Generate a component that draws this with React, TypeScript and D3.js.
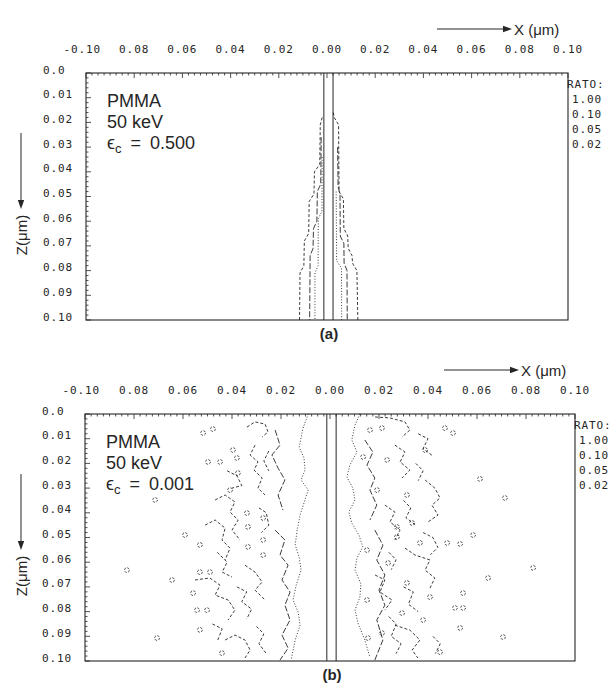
import React from "react";
import * as d3 from "d3";

type Pt = [number, number]; // [x (µm), z (µm)]

// ---------- axes / labels ----------
const xTickValues = [-0.1, -0.08, -0.06, -0.04, -0.02, 0, 0.02, 0.04, 0.06, 0.08, 0.1];
const xTickLabels = ["-0.10", "0.08", "0.06", "0.04", "0.02", "0.00", "0.02", "0.04", "0.06", "0.08", "0.10"];
const zTickValues = [0, 0.01, 0.02, 0.03, 0.04, 0.05, 0.06, 0.07, 0.08, 0.09, 0.1];
const zTickLabels = ["0.0", "0.01", "0.02", "0.03", "0.04", "0.05", "0.06", "0.07", "0.08", "0.09", "0.10"];
const ratioLabels = ["1.00", "0.10", "0.05", "0.02"];
const beamEdges = [-0.0013, 0.0025]; // ratio 1.00 contour

// ---------- panel (a): eps_c = 0.500 ----------
const aLevel002Left: Pt[] = [[-0.002, 0.018], [-0.0028, 0.021], [-0.003, 0.037], [-0.0052, 0.04], [-0.0054, 0.049], [-0.0074, 0.052], [-0.0076, 0.065], [-0.0094, 0.068], [-0.0096, 0.078], [-0.0112, 0.081], [-0.0114, 0.1]];
const aLevel002Right: Pt[] = [[0.0026, 0.016], [0.003, 0.018], [0.0048, 0.021], [0.005, 0.048], [0.0068, 0.051], [0.007, 0.063], [0.0086, 0.066], [0.0088, 0.071], [0.0104, 0.074], [0.0106, 0.077], [0.0124, 0.08], [0.0128, 0.1]];
const aLevel005Left: Pt[] = [[-0.0024, 0.026], [-0.0026, 0.045], [-0.004, 0.048], [-0.0042, 0.06], [-0.0056, 0.063], [-0.0058, 0.071], [-0.007, 0.074], [-0.0072, 0.1]];
const aLevel005Right: Pt[] = [[0.0044, 0.03], [0.0046, 0.046], [0.0054, 0.049], [0.0055, 0.066], [0.007, 0.069], [0.0071, 0.077], [0.0083, 0.08], [0.0084, 0.1]];
const aLevel010Left: Pt[] = [[-0.002, 0.034], [-0.0021, 0.056], [-0.0036, 0.059], [-0.0037, 0.078], [-0.005, 0.081], [-0.005, 0.1]];
const aLevel010Right: Pt[] = [[0.0038, 0.048], [0.004, 0.076], [0.006, 0.079], [0.0061, 0.1]];

// ---------- panel (b): eps_c = 0.001 ----------
const bLevel010Left: Pt[] = [[-0.0089, 0], [-0.011, 0.0057], [-0.0126, 0.0134], [-0.0106, 0.0178], [-0.0102, 0.0227], [-0.0118, 0.0267], [-0.0089, 0.0308], [-0.0106, 0.036], [-0.0122, 0.0409], [-0.0134, 0.047], [-0.0142, 0.053], [-0.0126, 0.0579], [-0.0118, 0.0632], [-0.0138, 0.0693], [-0.0151, 0.0753], [-0.013, 0.0802], [-0.0122, 0.0855], [-0.0142, 0.0915], [-0.0159, 0.0996]];
const bLevel010Right: Pt[] = [[0.0122, 0], [0.0102, 0.0045], [0.0089, 0.0105], [0.011, 0.0154], [0.0081, 0.0207], [0.0069, 0.0255], [0.0093, 0.03], [0.0102, 0.0348], [0.0077, 0.0397], [0.0089, 0.0441], [0.0118, 0.049], [0.0134, 0.0538], [0.011, 0.0583], [0.0102, 0.0632], [0.0126, 0.0688], [0.0122, 0.0741], [0.0102, 0.0794], [0.0114, 0.0846], [0.0142, 0.0915], [0.0163, 0.0984]];

const bLevel005Paths: Pt[][] = [
  [[-0.0224, 0.0065], [-0.0204, 0.0126], [-0.0237, 0.0166], [-0.0212, 0.0219], [-0.0184, 0.0267], [-0.0212, 0.0328], [-0.0192, 0.0389]],
  [[-0.0224, 0.047], [-0.0184, 0.051], [-0.0204, 0.0571], [-0.0171, 0.0612], [-0.0196, 0.0672], [-0.0163, 0.0721], [-0.0184, 0.0774], [-0.0163, 0.0834], [-0.0196, 0.0895], [-0.0171, 0.0948], [-0.0204, 0.0996]],
  [[0.0142, 0.0105], [0.0175, 0.0154], [0.0151, 0.0207], [0.0183, 0.0259], [0.0163, 0.0308], [0.0191, 0.0369], [0.0163, 0.0429]],
  [[0.0183, 0.047], [0.0216, 0.0531], [0.0191, 0.0591], [0.0224, 0.0652], [0.02, 0.0713], [0.0224, 0.0774], [0.0191, 0.0834], [0.0216, 0.0915], [0.0183, 0.0996]],
];

const bLevel002Paths: Pt[][] = [
  [[-0.0339, 0.0053], [-0.0306, 0.0032], [-0.0265, 0.0041], [-0.0253, 0.0073], [-0.0277, 0.0093]],
  [[-0.0306, 0.0126], [-0.0326, 0.0166], [-0.0294, 0.0194], [-0.031, 0.0227], [-0.0277, 0.0259], [-0.0294, 0.03], [-0.0265, 0.0328]],
  [[-0.0469, 0.0348], [-0.0428, 0.0328], [-0.0388, 0.0356], [-0.0408, 0.0397], [-0.0375, 0.0429], [-0.04, 0.047], [-0.0367, 0.051]],
  [[-0.051, 0.045], [-0.0469, 0.0429], [-0.0428, 0.0462], [-0.0441, 0.051], [-0.0408, 0.0543], [-0.0428, 0.0591]],
  [[-0.0551, 0.0672], [-0.049, 0.0664], [-0.0449, 0.0693], [-0.0469, 0.0733], [-0.0416, 0.0753], [-0.0388, 0.0794], [-0.0416, 0.0834]],
  [[-0.0428, 0.0915], [-0.0388, 0.0895], [-0.0347, 0.0915], [-0.0326, 0.0956], [-0.0347, 0.0988]],
  [[-0.0347, 0.0612], [-0.0306, 0.064], [-0.0277, 0.068], [-0.0306, 0.0713], [-0.0265, 0.0753]],
  [[-0.029, 0.038], [-0.026, 0.04], [-0.025, 0.045], [-0.028, 0.048]],
  [[-0.042, 0.023], [-0.038, 0.025], [-0.036, 0.029], [-0.04, 0.03]],
  [[-0.046, 0.056], [-0.042, 0.06], [-0.044, 0.064], [-0.04, 0.066]],
  [[-0.038, 0.07], [-0.034, 0.072], [-0.036, 0.076], [-0.032, 0.079], [-0.034, 0.083]],
  [[-0.048, 0.085], [-0.044, 0.087], [-0.046, 0.092]],
  [[-0.03, 0.086], [-0.027, 0.089], [-0.029, 0.093], [-0.026, 0.097]],
  [[-0.025, 0.015], [-0.027, 0.019], [-0.025, 0.023]],
  [[0.0184, 0.0012], [0.0245, 0.0016], [0.0306, 0.0032], [0.0326, 0.0065], [0.0294, 0.0093]],
  [[0.0265, 0.0126], [0.0306, 0.0154], [0.0286, 0.0194], [0.0326, 0.0227], [0.0294, 0.0259]],
  [[0.0388, 0.0267], [0.0428, 0.03], [0.0449, 0.034], [0.0416, 0.0369], [0.0441, 0.0409], [0.04, 0.0437]],
  [[0.0224, 0.0369], [0.0265, 0.0397], [0.0245, 0.0437], [0.0286, 0.047], [0.0265, 0.051]],
  [[0.0306, 0.0543], [0.0347, 0.0571], [0.0408, 0.0591], [0.0388, 0.0632], [0.0428, 0.0664], [0.0408, 0.0705]],
  [[0.0184, 0.0652], [0.0224, 0.0672], [0.0204, 0.0721], [0.0253, 0.0753], [0.0224, 0.0794]],
  [[0.0265, 0.0855], [0.0326, 0.0875], [0.0367, 0.0915], [0.0335, 0.0956], [0.0359, 0.0988]],
  [[0.036, 0.008], [0.04, 0.01], [0.038, 0.014], [0.042, 0.017]],
  [[0.035, 0.02], [0.038, 0.023], [0.036, 0.027]],
  [[0.03, 0.035], [0.033, 0.038], [0.031, 0.042], [0.035, 0.045]],
  [[0.038, 0.048], [0.042, 0.05], [0.044, 0.054], [0.041, 0.057]],
  [[0.024, 0.056], [0.027, 0.059], [0.025, 0.063]],
  [[0.03, 0.07], [0.034, 0.072], [0.032, 0.077], [0.036, 0.08]],
  [[0.024, 0.082], [0.027, 0.085], [0.025, 0.09], [0.029, 0.093], [0.027, 0.097]],
  [[0.042, 0.09], [0.045, 0.093], [0.043, 0.097]],
];

const bLevel002Rings: Pt[] = [
  [-0.0518, 0.0077], [-0.0478, 0.0061], [-0.0396, 0.0146], [-0.0498, 0.0194], [-0.0449, 0.0194], [-0.038, 0.0178], [-0.0376, 0.0239],
  [-0.0714, 0.0348], [-0.0408, 0.0308], [-0.0592, 0.049], [-0.0531, 0.053], [-0.0829, 0.0632], [-0.0645, 0.0672], [-0.0531, 0.064],
  [-0.049, 0.064], [-0.0559, 0.0725], [-0.0543, 0.0794], [-0.0502, 0.0794], [-0.0531, 0.0874], [-0.0706, 0.0907], [-0.0441, 0.0968],
  [-0.0339, 0.0401], [-0.0273, 0.0421], [-0.0335, 0.0457], [-0.0273, 0.051], [-0.0335, 0.0538], [-0.0273, 0.0571],
  [0.0469, 0.0057], [0.0502, 0.0077], [0.0388, 0.0146], [0.0612, 0.0263], [0.0714, 0.034], [0.0584, 0.049], [0.0531, 0.0526],
  [0.0829, 0.0623], [0.0645, 0.0664], [0.0543, 0.0725], [0.051, 0.0785], [0.0543, 0.0785], [0.0531, 0.0866], [0.0706, 0.0903],
  [0.0449, 0.0964], [0.0273, 0.0457], [0.0273, 0.0498], [0.0163, 0.0065], [0.0212, 0.0057], [0.0233, 0.0186], [0.0135, 0.0174],
  [0.0192, 0.0308], [0.0314, 0.0328], [0.0335, 0.0441], [0.0151, 0.0551], [0.0237, 0.0603], [0.0314, 0.0684], [0.0151, 0.0753],
  [0.0155, 0.0907], [0.0212, 0.0887], [0.0294, 0.0806], [0.038, 0.0834], [0.0408, 0.0741], [0.0478, 0.0522], [0.0367, 0.0522],
];

// ---------- rendering ----------
const INK = "#262626";
const MONO = "'DejaVu Sans Mono', 'Liberation Mono', monospace";
const SANS = "'Liberation Sans', Arial, Helvetica, sans-serif";

const levelStyle: Record<string, { dash: string; w: number }> = {
  "0.10": { dash: "1,1.8", w: 0.9 },
  "0.05": { dash: "6,2", w: 0.9 },
  "0.02": { dash: "3,2", w: 0.9 },
};

type Box = { left: number; right: number; top: number; bottom: number };

function Panel(props: {
  box: Box;
  tag: string;
  ec: string;
  lines: { level: string; pts: Pt[] }[];
  rings: Pt[];
}) {
  const { box, tag, ec, lines, rings } = props;
  const x = d3.scaleLinear().domain([-0.1, 0.1]).range([box.left, box.right]);
  const z = d3.scaleLinear().domain([0, 0.1]).range([box.top, box.bottom]);
  const line = d3.line<Pt>().x((d) => x(d[0])).y((d) => z(d[1]));

  const xMinor = d3.range(0, 81).map((i) => -0.1 + i * 0.0025);
  const zMinor = d3.range(0, 51).map((i) => i * 0.002);

  return (
    <g>
      {/* X axis title */}
      <line x1={box.right - 131} x2={box.right - 60} y1={box.top - 44} y2={box.top - 44} stroke={INK} strokeWidth={1} />
      <path d={`M${box.right - 56},${box.top - 44} l-9,-3.2 l0,6.4 z`} fill={INK} />
      <text x={box.right - 54} y={box.top - 38.5} fontFamily={SANS} fontSize={15} fill={INK}>
        X (μm)
      </text>

      {/* X tick labels */}
      {xTickValues.map((v, i) => (
        <text key={"xl" + i} x={x(v) + 15} y={box.top - 20} textAnchor="end" fontFamily={MONO} fontSize={11} letterSpacing={0.9} fill={INK}>
          {xTickLabels[i]}
        </text>
      ))}

      {/* Z tick labels */}
      {zTickValues.map((v, i) => (
        <text key={"zl" + i} x={box.left - 43} y={z(v) + 0.5} fontFamily={MONO} fontSize={11} letterSpacing={0.9} fill={INK}>
          {zTickLabels[i]}
        </text>
      ))}

      {/* Z axis title */}
      <line x1={21} x2={21} y1={box.top + 60} y2={box.top + 128} stroke={INK} strokeWidth={1} />
      <path d={`M21,${box.top + 136} l-3.2,-9 l6.4,0 z`} fill={INK} />
      <text transform={`translate(27,${box.top + 162}) rotate(-90)`} textAnchor="middle" fontFamily={SANS} fontSize={15} fill={INK}>
        Z(μm)
      </text>

      {/* frame */}
      <rect x={box.left} y={box.top} width={box.right - box.left} height={box.bottom - box.top} fill="none" stroke={INK} strokeWidth={1.1} />

      {/* top ticks */}
      {xMinor.map((v, i) => (
        <line key={"xt" + i} x1={x(v)} x2={x(v)} y1={box.top} y2={box.top + (i % 8 === 0 ? 5 : 2.5)} stroke={INK} strokeWidth={0.8} />
      ))}
      {/* left ticks */}
      {zMinor.map((v, i) => (
        <line key={"zt" + i} x1={box.left} x2={box.left + (i % 5 === 0 ? 5 : 2.5)} y1={z(v)} y2={z(v)} stroke={INK} strokeWidth={0.8} />
      ))}

      {/* ratio 1.00 */}
      {beamEdges.map((v, i) => (
        <line key={"be" + i} x1={x(v)} x2={x(v)} y1={box.top} y2={box.bottom} stroke={INK} strokeWidth={1} />
      ))}

      {/* contour lines */}
      {lines.map((l, i) => (
        <path key={"c" + i} d={line(l.pts) || ""} fill="none" stroke={INK} strokeWidth={levelStyle[l.level].w} strokeDasharray={levelStyle[l.level].dash} />
      ))}
      {rings.map((p, i) => (
        <circle key={"r" + i} cx={x(p[0])} cy={z(p[1])} r={2.4} fill="none" stroke={INK} strokeWidth={0.8} strokeDasharray="2.2,1.3" />
      ))}

      {/* annotation */}
      <text x={box.left + 21} y={box.top + 34} fontFamily={SANS} fontSize={18} fill={INK}>PMMA</text>
      <text x={box.left + 21} y={box.top + 55} fontFamily={SANS} fontSize={18} fill={INK}>50 keV</text>
      <text x={box.left + 21} y={box.top + 76} fontFamily={SANS} fontSize={18} fill={INK}>
        ϵ<tspan fontSize={13} dy={4}>c</tspan>
        <tspan dy={-4} dx={9}>=</tspan>
        <tspan dx={9}>{ec}</tspan>
      </text>

      {/* legend */}
      <text x={box.right - 1} y={box.top + 15} fontFamily={MONO} fontSize={11} letterSpacing={0.9} fill={INK}>RATO:</text>
      {ratioLabels.map((r, i) => (
        <text key={"rl" + i} x={box.right + 4} y={box.top + 30 + i * 15} fontFamily={MONO} fontSize={11} letterSpacing={0.9} fill={INK}>
          {r}
        </text>
      ))}

      {/* panel tag */}
      <text x={(box.left + box.right) / 2 + 2} y={box.bottom + 19} textAnchor="middle" fontFamily={SANS} fontWeight="bold" fontSize={15} fill={INK}>
        {tag}
      </text>
    </g>
  );
}

export default function App() {
  const boxA: Box = { left: 86, right: 568, top: 73, bottom: 320 };
  const boxB: Box = { left: 85, right: 575, top: 414, bottom: 661 };
  const linesA = [
    { level: "0.02", pts: aLevel002Left },
    { level: "0.02", pts: aLevel002Right },
    { level: "0.05", pts: aLevel005Left },
    { level: "0.05", pts: aLevel005Right },
    { level: "0.10", pts: aLevel010Left },
    { level: "0.10", pts: aLevel010Right },
  ];
  const linesB = [
    { level: "0.10", pts: bLevel010Left },
    { level: "0.10", pts: bLevel010Right },
    ...bLevel005Paths.map((p) => ({ level: "0.05", pts: p })),
    ...bLevel002Paths.map((p) => ({ level: "0.02", pts: p })),
  ];
  return (
    <svg width={612} height={684} viewBox="0 0 612 684" style={{ position: "absolute", left: 0, top: 0, background: "#fff" }}>
      <rect x={0} y={0} width={612} height={684} fill="#fff" />
      <Panel box={boxA} tag="(a)" ec="0.500" lines={linesA} rings={[]} />
      <Panel box={boxB} tag="(b)" ec="0.001" lines={linesB} rings={bLevel002Rings} />
    </svg>
  );
}
